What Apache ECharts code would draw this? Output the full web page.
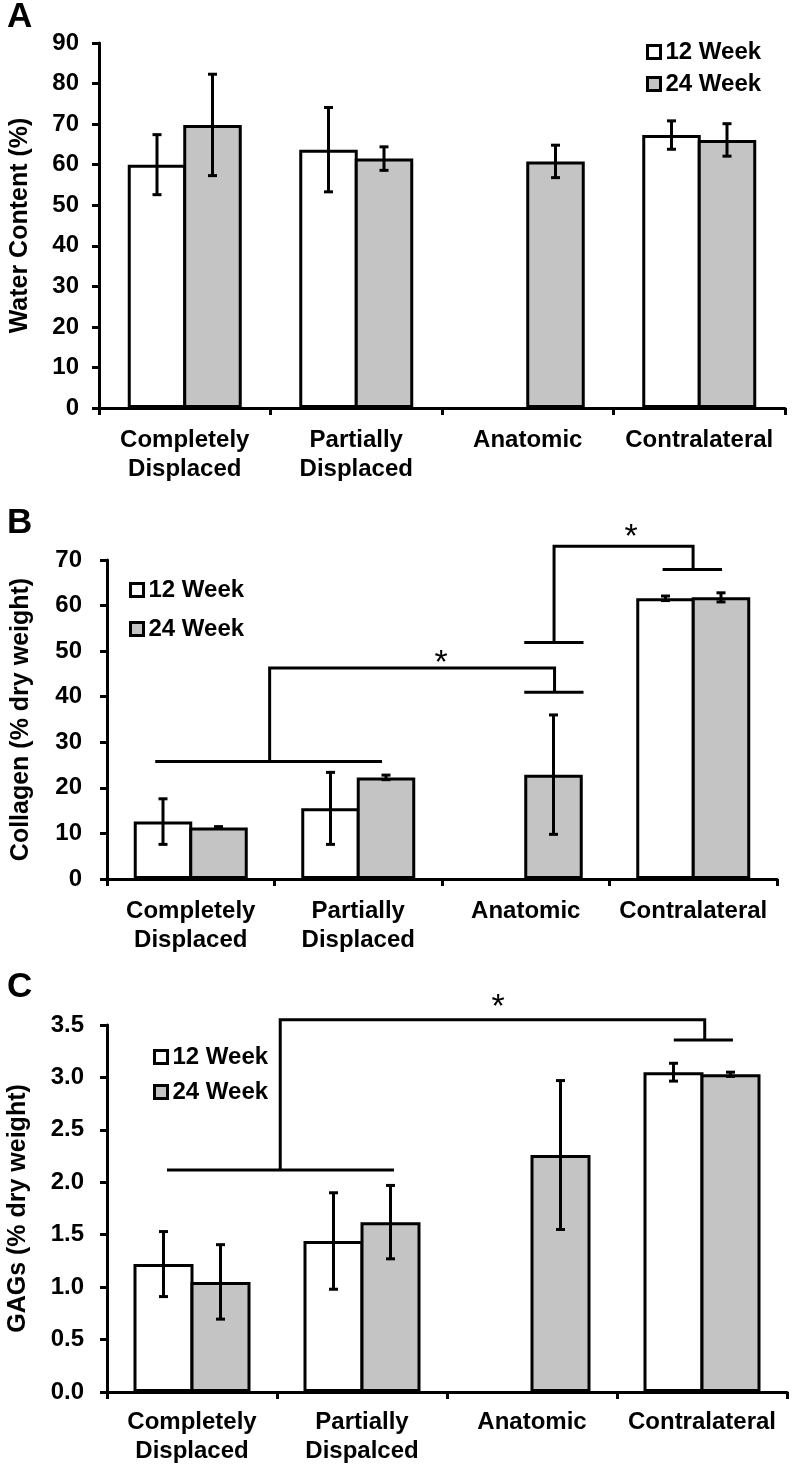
<!DOCTYPE html>
<html><head><meta charset="utf-8">
<script src="https://cdn.jsdelivr.net/npm/echarts@6/dist/echarts.min.js"></script>
<style>html,body{margin:0;padding:0;background:#fff}#c{width:792px;height:1480px}</style>
</head><body><div id="c"></div>
<script>
// ---------- DATA ----------
const categoriesAB = ['Completely\nDisplaced', 'Partially\nDisplaced', 'Anatomic', 'Contralateral'];
const categoriesC = ['Completely\nDisplaced', 'Partially\nDispalced', 'Anatomic', 'Contralateral'];
const seriesNames = ['12 Week', '24 Week'];

const waterWk12 = [60.0, 63.7, null, 67.3];
const waterWk12Err = [7.4, 10.4, null, 3.5];
const waterWk24 = [69.8, 61.5, 60.8, 66.1];
const waterWk24Err = [12.5, 2.9, 4.0, 4.0];

const collagenWk12 = [12.6, 15.5, null, 61.6];
const collagenWk12Err = [5.0, 7.9, null, 0.5];
const collagenWk24 = [11.3, 22.3, 22.9, 61.8];
const collagenWk24Err = [0.2, 0.5, 13.1, 1.0];

const gagWk12 = [1.22, 1.44, null, 3.05];
const gagWk12Err = [0.31, 0.46, null, 0.085];
const gagWk24 = [1.05, 1.62, 2.26, 3.03];
const gagWk24Err = [0.355, 0.35, 0.71, 0.02];

const yTicksA = [0, 90, 10];
const yTicksB = [0, 70, 10];
const yTicksC = [0, 3.5, 0.5];

const yTitleA = 'Water Content (%)';
const yTitleB = 'Collagen (% dry weight)';
const yTitleC = 'GAGs (% dry weight)';

// significance brackets: polylines in (category position, value) coordinates
const bracketsB = [
  [[0.288, 25.8], [1.642, 25.8]],
  [[0.971, 25.8], [0.971, 46.3], [2.672, 46.3], [2.672, 41.0]],
  [[2.491, 41.0], [2.845, 41.0]],
  [[2.491, 51.9], [2.845, 51.9]],
  [[2.669, 51.9], [2.669, 73.0], [3.499, 73.0], [3.499, 67.9]],
  [[3.317, 67.9], [3.672, 67.9]]
];
const starsB = [[1.995, 48.7], [3.129, 76.5]];
const bracketsC = [
  [[0.353, 2.116], [1.688, 2.116]],
  [[1.019, 2.116], [1.019, 3.55], [3.516, 3.55], [3.516, 3.356]],
  [[3.334, 3.356], [3.682, 3.356]]
];
const starsC = [[2.30, 3.73]];

// ---------- CHART ----------
const FONT = '"Liberation Sans", Arial, Helvetica, sans-serif';
const GRAY = '#c4c4c4';
const grids = [
  {left: 99, top: 43, width: 686, height: 365, outerBoundsMode: 'none'},
  {left: 107, top: 560, width: 670, height: 319, outerBoundsMode: 'none'},
  {left: 107, top: 1025, width: 680, height: 367, outerBoundsMode: 'none'}
];
const barWidths = [58.5, 58.5, 60];
const labelMargins = [20, 25, 23];
const nameGaps = [66, 73, 76];
const catMargins = [18, 18, 16];

function errRender(sign, bw) {
  return function (params, api) {
    const cat = api.value(0);
    const lo = api.coord([cat, api.value(1)]);
    const hi = api.coord([cat, api.value(2)]);
    const x = lo[0] + sign * (bw / 2 - 1.5);
    const cw = 4.5;
    const st = {stroke: '#000', lineWidth: 3};
    return {type: 'group', children: [
      {type: 'line', shape: {x1: x, y1: lo[1], x2: x, y2: hi[1]}, style: st},
      {type: 'line', shape: {x1: x - cw, y1: lo[1], x2: x + cw, y2: lo[1]}, style: st},
      {type: 'line', shape: {x1: x - cw, y1: hi[1], x2: x + cw, y2: hi[1]}, style: st}
    ]};
  };
}
function errData(means, errs) {
  const out = [];
  means.forEach((m, i) => { if (m != null) out.push([i, m - errs[i], m + errs[i]]); });
  return out;
}
function bracketRender(list) {
  return function (params, api) {
    const pts = list[params.dataIndex].map(p => api.coord(p));
    return {type: 'polyline', shape: {points: pts}, style: {stroke: '#000', lineWidth: 3, fill: null}};
  };
}
function starRender(params, api) {
  const p = api.coord([api.value(0), api.value(1)]);
  return {type: 'text', x: p[0], y: p[1] + 7, style: {text: '*', fill: '#000', font: 'normal 34px ' + FONT, align: 'center', verticalAlign: 'middle'}};
}

const panels = [
  {cats: categoriesAB, w12: waterWk12, e12: waterWk12Err, w24: waterWk24, e24: waterWk24Err, ticks: yTicksA, title: yTitleA, br: [], st: []},
  {cats: categoriesAB, w12: collagenWk12, e12: collagenWk12Err, w24: collagenWk24, e24: collagenWk24Err, ticks: yTicksB, title: yTitleB, br: bracketsB, st: starsB},
  {cats: categoriesC, w12: gagWk12, e12: gagWk12Err, w24: gagWk24, e24: gagWk24Err, ticks: yTicksC, title: yTitleC, br: bracketsC, st: starsC}
];

const xAxes = [], yAxes = [], series = [];
panels.forEach((P, p) => {
  const bw = barWidths[p];
  xAxes[p] = {
    type: 'category', gridIndex: p, data: P.cats,
    axisLine: {lineStyle: {color: '#000', width: 3}},
    axisTick: {show: true, length: 7, lineStyle: {color: '#000', width: 3}},
    axisLabel: {interval: 0, color: '#000', fontFamily: FONT, fontWeight: 'bold', fontSize: 24, lineHeight: 29, margin: catMargins[p]},
    splitLine: {show: false}
  };
  xAxes[3 + p] = {type: 'value', gridIndex: p, min: 0, max: 4, show: false};
  yAxes[p] = {
    type: 'value', gridIndex: p, min: P.ticks[0], max: P.ticks[1], interval: P.ticks[2],
    name: P.title, nameLocation: 'middle', nameGap: nameGaps[p],
    nameTextStyle: {color: '#000', fontFamily: FONT, fontWeight: 'bold', fontSize: 25},
    axisLine: {show: true, lineStyle: {color: '#000', width: 3}},
    axisTick: {show: true, length: 7, lineStyle: {color: '#000', width: 3}},
    axisLabel: {color: '#000', fontFamily: FONT, fontWeight: 'bold', fontSize: 24, margin: labelMargins[p],
      formatter: v => (p === 2 ? v.toFixed(1) : String(v))},
    splitLine: {show: false}
  };
  [[P.w12, '#ffffff'], [P.w24, GRAY]].forEach((d, k) => {
    series.push({
      type: 'bar', name: seriesNames[k], xAxisIndex: p, yAxisIndex: p,
      data: d[0], barWidth: bw, barGap: (-300 / bw).toFixed(2) + '%',
      itemStyle: {color: d[1], borderColor: '#000', borderWidth: 3},
      emphasis: {disabled: true}, z: 2
    });
  });
  series.push({type: 'custom', xAxisIndex: p, yAxisIndex: p, renderItem: errRender(-1, bw), data: errData(P.w12, P.e12), encode: {x: 0, y: [1, 2]}, z: 5, silent: true});
  series.push({type: 'custom', xAxisIndex: p, yAxisIndex: p, renderItem: errRender(1, bw), data: errData(P.w24, P.e24), encode: {x: 0, y: [1, 2]}, z: 5, silent: true});
  if (P.br.length) {
    series.push({type: 'custom', xAxisIndex: 3 + p, yAxisIndex: p, clip: false, renderItem: bracketRender(P.br), data: P.br.map(b => b[0]), encode: {x: 0, y: 1}, z: 6, silent: true});
    series.push({type: 'custom', xAxisIndex: 3 + p, yAxisIndex: p, clip: false, renderItem: starRender, data: P.st, encode: {x: 0, y: 1}, z: 6, silent: true});
  }
});

const legendBase = {
  data: seriesNames.map(n => ({name: n, icon: 'rect'})), orient: 'vertical', selectedMode: false,
  padding: 0, itemWidth: 13, itemHeight: 13,
  itemStyle: {borderColor: '#000', borderWidth: 3},
  textStyle: {color: '#000', fontFamily: FONT, fontWeight: 'bold', fontSize: 24}
};
const legends = [
  Object.assign({}, legendBase, {left: 646, top: 40, itemGap: 8}),
  Object.assign({}, legendBase, {left: 129, top: 578, itemGap: 15}),
  Object.assign({}, legendBase, {left: 153, top: 1045, itemGap: 11})
];

const letterStyle = t => ({text: t, fill: '#000', font: 'bold 35px ' + FONT, align: 'left', verticalAlign: 'middle'});

const chart = echarts.init(document.getElementById('c'), null, {renderer: 'canvas'});
chart.setOption({
  animation: false,
  backgroundColor: '#fff',
  grid: grids,
  xAxis: xAxes,
  yAxis: yAxes,
  legend: legends,
  series: series,
  graphic: [
    {type: 'text', x: 7, y: 17, style: letterStyle('A')},
    {type: 'text', x: 7, y: 523, style: letterStyle('B')},
    {type: 'text', x: 7, y: 987, style: letterStyle('C')}
  ]
});
</script></body></html>
